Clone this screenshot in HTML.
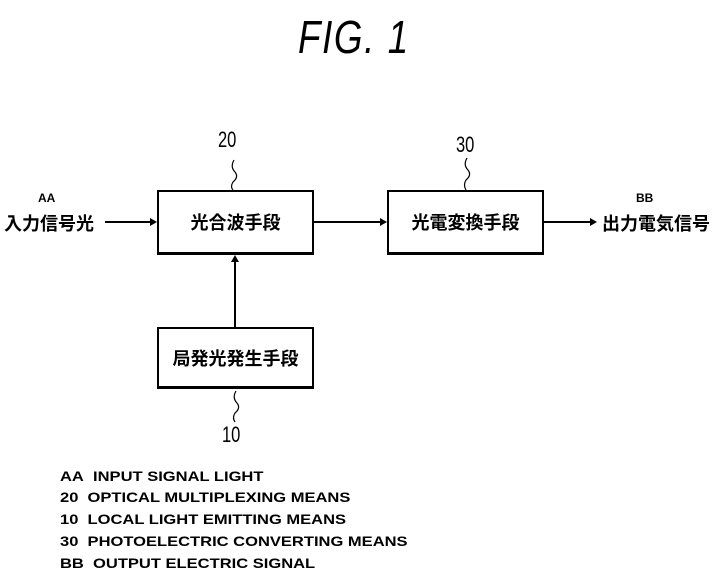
<!DOCTYPE html>
<html><head><meta charset="utf-8"><style>
body{margin:0;background:#fff;width:713px;height:578px;overflow:hidden;position:relative;font-family:"Liberation Sans","Noto Sans CJK JP",sans-serif;color:#000}
.t{position:absolute;white-space:nowrap}
.box{position:absolute;border:2px solid #000;border-bottom-width:3px;box-sizing:border-box;display:flex;align-items:center;justify-content:center;font-size:18px;font-weight:bold}
.leg{position:absolute;left:60px;font-size:14px;font-weight:bold;white-space:nowrap;transform:scaleX(1.18);transform-origin:left top}
</style></head><body>
<div class="t" style="left:298px;top:10px;font-size:46px;font-style:italic;transform:scaleX(0.8);transform-origin:left top;letter-spacing:2px">FIG. 1</div>

<div class="box" style="left:157px;top:190px;width:157px;height:65px">光合波手段</div>
<div class="box" style="left:387px;top:190px;width:157px;height:65px">光電変換手段</div>
<div class="box" style="left:157px;top:327px;width:157px;height:62px">局発光発生手段</div>

<div class="t" style="left:38px;top:191px;font-size:12px;font-weight:bold">AA</div>
<div class="t" style="left:4px;top:210px;font-size:18px;font-weight:bold">入力信号光</div>
<div class="t" style="left:636px;top:191px;font-size:12px;font-weight:bold">BB</div>
<div class="t" style="left:602px;top:210px;font-size:18px;font-weight:bold">出力電気信号</div>

<div class="t" style="left:218px;top:127px;font-size:22px;transform:scaleX(0.75);transform-origin:left top">20</div>
<div class="t" style="left:456px;top:132px;font-size:22px;transform:scaleX(0.75);transform-origin:left top">30</div>
<div class="t" style="left:222px;top:422px;font-size:22px;transform:scaleX(0.75);transform-origin:left top">10</div>

<svg width="713" height="578" style="position:absolute;left:0;top:0">
<g stroke="#000" stroke-width="2" fill="none">
<line x1="105" y1="222" x2="152" y2="222"/>
<line x1="314" y1="222" x2="382" y2="222"/>
<line x1="544" y1="222" x2="591" y2="222"/>
<line x1="235" y1="327" x2="235" y2="260"/>
<path d="M234 160 q-4 7 1 12 q4 5 -2 10 q-3 5 0 8" stroke-width="1.2"/>
<path d="M467 158 q-4 7 1 12 q4 5 -2 10 q-3 5 0 10" stroke-width="1.2"/>
<path d="M236 391 q-4 7 1 12 q4 5 -2 10 q-3 5 0 9" stroke-width="1.2"/>
</g>
<g fill="#000">
<polygon points="157,222 150,218 150,226"/>
<polygon points="387,222 380,218 380,226"/>
<polygon points="597,222 590,218 590,226"/>
<polygon points="235,255 231,262 239,262"/>
</g>
</svg>

<div class="leg" style="top:468px">AA&nbsp; INPUT SIGNAL LIGHT</div>
<div class="leg" style="top:489px">20&nbsp; OPTICAL MULTIPLEXING MEANS</div>
<div class="leg" style="top:511px">10&nbsp; LOCAL LIGHT EMITTING MEANS</div>
<div class="leg" style="top:533px">30&nbsp; PHOTOELECTRIC CONVERTING MEANS</div>
<div class="leg" style="top:555px">BB&nbsp; OUTPUT ELECTRIC SIGNAL</div>
</body></html>
